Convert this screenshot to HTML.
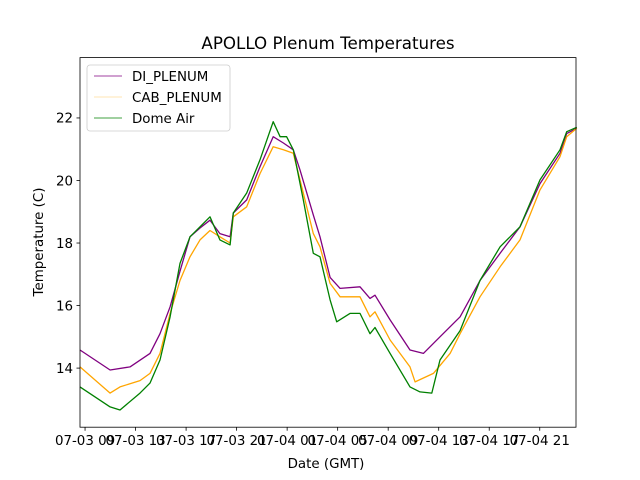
<!DOCTYPE html>
<html><head><meta charset="utf-8"><style>
html,body{margin:0;padding:0;background:#fff;}
svg{display:block;font-family:"DejaVu Sans","Liberation Sans",sans-serif;}
</style></head><body>
<svg id="chart" width="640" height="480" viewBox="0 0 640 480" xmlns="http://www.w3.org/2000/svg">
<rect width="640" height="480" fill="#fff"/>
<text x="328" y="49" font-size="16.7" text-anchor="middle">APOLLO Plenum Temperatures</text>
<g id="plot"></g>
<rect x="80" y="57.6" width="496" height="369.6" fill="none" stroke="#000" stroke-width="0.8"/>
<g id="xticks"></g><g id="yticks"></g>
<text x="326" y="468" font-size="13.4" text-anchor="middle">Date (GMT)</text>
<text x="0" y="0" font-size="13.4" text-anchor="middle" transform="translate(43,242) rotate(-90)">Temperature (C)</text>
<g>
<rect x="87" y="65" width="143" height="66" rx="3" fill="#fff" fill-opacity="0.8" stroke="#ccc" stroke-width="0.8"/>
<line x1="94" y1="76" x2="122" y2="76" stroke="purple" stroke-width="0.8"/>
<text x="132" y="81" font-size="13.4">DI_PLENUM</text>
<line x1="94" y1="97" x2="122" y2="97" stroke="orange" stroke-width="0.3"/>
<text x="132" y="102" font-size="13.4">CAB_PLENUM</text>
<line x1="94" y1="118" x2="122" y2="118" stroke="green" stroke-width="0.8"/>
<text x="132" y="123" font-size="13.4">Dome Air</text>
</g>
</svg>
<script>
const tickHours=[9,13,17,21,25,29,33,37,41,45];
const tickLabels=["07-03 09","07-03 13","07-03 17","07-03 21","07-04 01","07-04 05","07-04 09","07-04 13","07-04 17","07-04 21"];
const yTicks=[14,16,18,20,22];
const diHours=[8.6,10.98,12.56,14.14,14.93,15.73,16.52,17.31,18.1,18.89,19.68,20.48,20.74,21.8,22.85,23.9,24.7,25.49,26.02,27.07,27.6,28.4,29.19,30.77,31.56,31.96,33.15,34.73,35.79,37.1,38.69,40.27,41.86,43.44,45.02,46.6,47.13,47.93];
const diTemps=[14.58,13.94,14.04,14.47,15.1,15.96,17.1,18.2,18.48,18.73,18.3,18.2,18.96,19.38,20.44,21.4,21.2,20.98,20.34,18.9,18.2,16.9,16.55,16.6,16.23,16.33,15.54,14.58,14.47,15.0,15.64,16.8,17.67,18.52,19.9,20.87,21.5,21.67];
const cabHours=[8.6,10.98,11.77,13.35,14.14,14.93,15.73,16.52,17.31,18.1,18.89,19.68,20.48,20.74,21.8,22.85,23.9,24.7,25.49,26.28,27.07,27.6,28.4,29.19,30.77,31.56,31.96,33.15,34.73,35.13,36.58,37.9,38.69,40.27,41.86,43.44,45.02,46.6,47.13,47.93];
const cabTemps=[14.04,13.2,13.4,13.6,13.83,14.47,15.75,16.8,17.56,18.1,18.4,18.2,18.0,18.84,19.16,20.22,21.08,20.98,20.87,19.6,18.3,17.88,16.71,16.28,16.28,15.64,15.8,14.9,14.04,13.56,13.83,14.47,15.1,16.28,17.24,18.1,19.7,20.76,21.4,21.67];
const domeHours=[8.6,10.98,11.77,13.35,14.14,14.93,15.73,16.52,17.31,18.1,18.89,19.68,20.48,20.74,21.8,22.85,23.9,24.44,24.96,25.49,26.28,27.07,27.6,28.4,28.92,29.98,30.77,31.56,31.96,33.15,34.73,35.52,36.45,37.1,38.69,40.27,41.86,43.44,45.02,46.6,47.13,47.93];
const domeTemps=[13.4,12.76,12.66,13.2,13.52,14.26,15.64,17.35,18.2,18.52,18.84,18.1,17.94,18.96,19.6,20.66,21.88,21.4,21.4,20.98,19.38,17.67,17.56,16.18,15.48,15.75,15.75,15.1,15.3,14.47,13.4,13.24,13.2,14.26,15.2,16.8,17.88,18.52,20.02,20.98,21.56,21.7];

const X0=80,X1=576,Y0=427.2,Y1=57.6,HMIN=8.6,HMAX=47.87,TMIN=12.11,TMAX=23.93;
function xs(h){return X0+(h-HMIN)/(HMAX-HMIN)*(X1-X0);}
function ys(t){return Y0-(t-TMIN)/(TMAX-TMIN)*(Y0-Y1);}
const NS="http://www.w3.org/2000/svg";
const plot=document.getElementById('plot');
function series(hours,temps,color,name,w){
  const p=document.createElementNS(NS,'polyline');
  p.setAttribute('points',hours.map((h,i)=>xs(h).toFixed(1)+','+ys(temps[i]).toFixed(1)).join(' '));
  p.setAttribute('fill','none');p.setAttribute('stroke',color);p.setAttribute('stroke-width',w);
  p.setAttribute('stroke-linejoin','round');
  
  
  plot.appendChild(p);
}
series(diHours,diTemps,'purple','di-plenum-line',1.3);
series(cabHours,cabTemps,'orange','cab-plenum-line',1.3);
series(domeHours,domeTemps,'green','dome-air-line',1.3);
const xt=document.getElementById('xticks');
tickHours.forEach((h,i)=>{
  const x=xs(h);
  const l=document.createElementNS(NS,'line');
  l.setAttribute('x1',x);l.setAttribute('x2',x);l.setAttribute('y1',427.2);l.setAttribute('y2',430.7);
  l.setAttribute('stroke','#000');l.setAttribute('stroke-width','0.8');
  
  
  xt.appendChild(l);
  const t=document.createElementNS(NS,'text');
  t.setAttribute('x',x);t.setAttribute('y',445);t.setAttribute('font-size','13.4');t.setAttribute('text-anchor','middle');
  t.textContent=tickLabels[i];
  
  
  xt.appendChild(t);
});
const yt=document.getElementById('yticks');
yTicks.forEach(v=>{
  const y=ys(v);
  const l=document.createElementNS(NS,'line');
  l.setAttribute('x1',76.5);l.setAttribute('x2',80);l.setAttribute('y1',y);l.setAttribute('y2',y);
  l.setAttribute('stroke','#000');l.setAttribute('stroke-width','0.8');
  
  
  yt.appendChild(l);
  const t=document.createElementNS(NS,'text');
  t.setAttribute('x',73);t.setAttribute('y',y+4.8);t.setAttribute('font-size','13.4');t.setAttribute('text-anchor','end');
  t.textContent=String(v);
  
  
  yt.appendChild(t);
});
</script>
</body></html>
